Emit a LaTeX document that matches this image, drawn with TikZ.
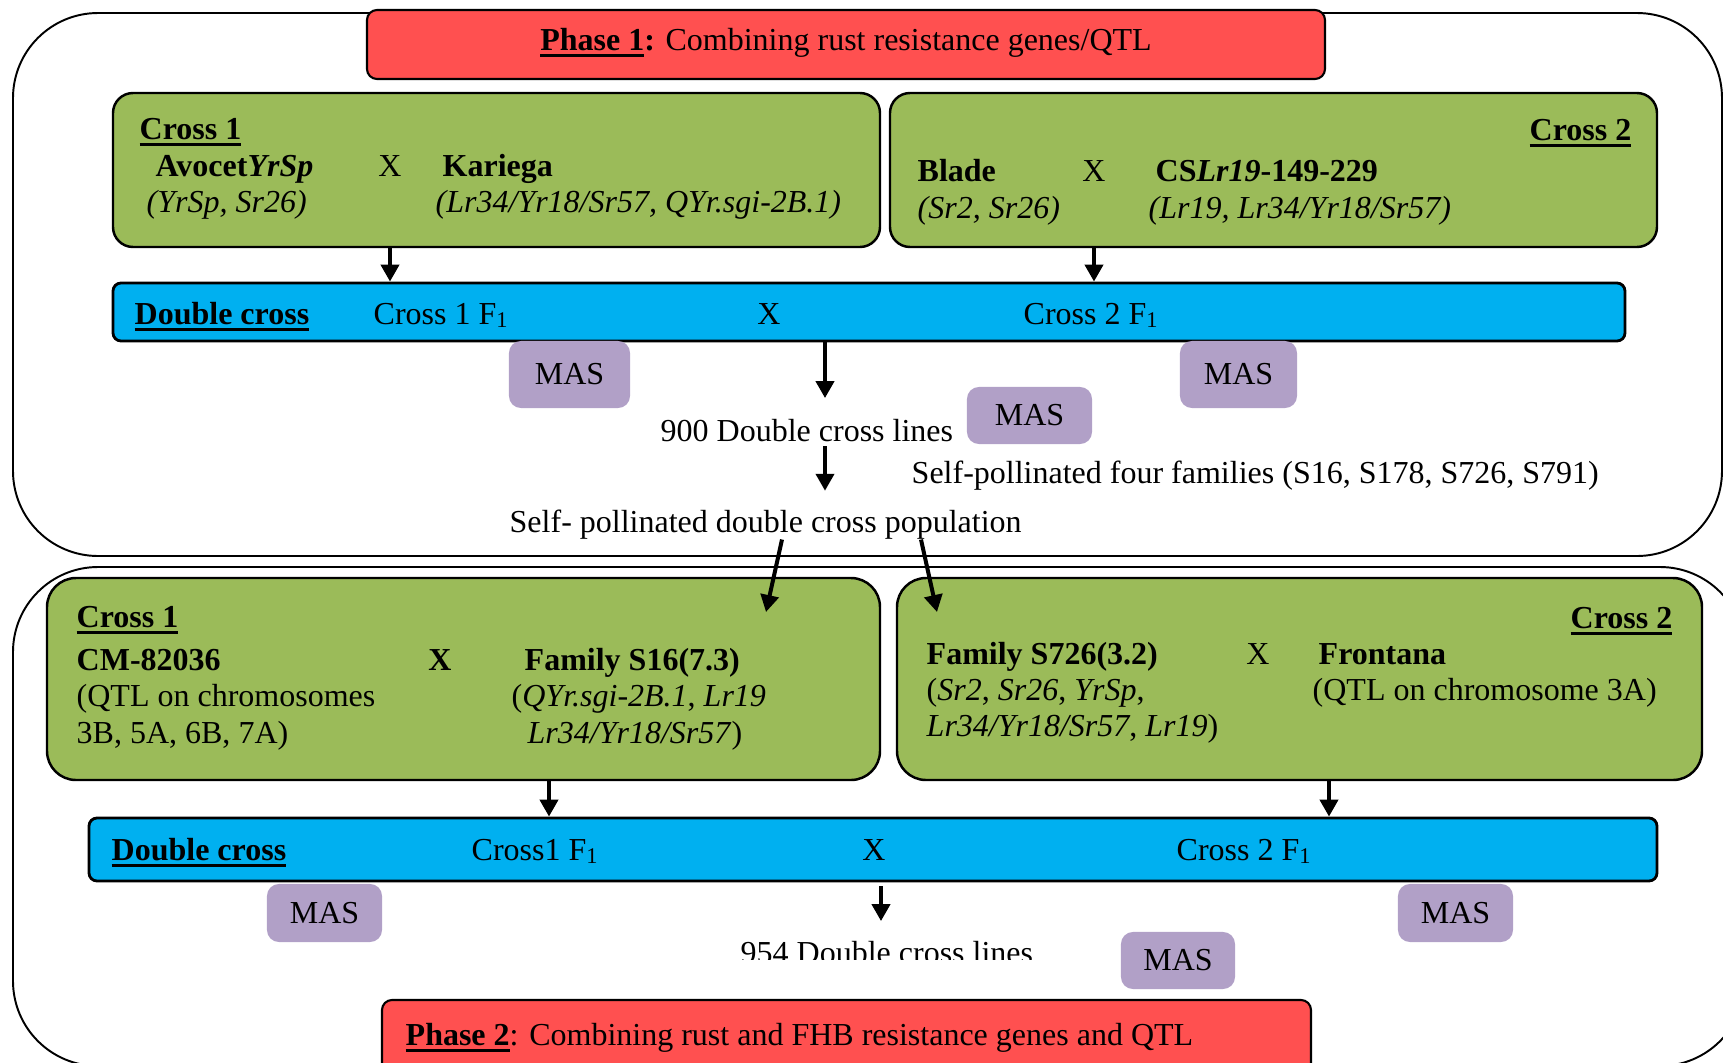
\documentclass[tikz,border=0pt]{standalone}
\usepackage{fontspec}
\setmainfont{Liberation Serif}
\usetikzlibrary{arrows.meta,fit}
\definecolor{phasered}{RGB}{255, 80, 80}
\definecolor{crossgreen}{RGB}{155, 187, 89}
\definecolor{dcblue}{RGB}{0, 176, 240}
\definecolor{maslilac}{RGB}{177, 160, 199}
% bold heading with a heavy underline
\newcommand{\hdr}[1]{\setbox0\hbox{\bfseries #1}\rlap{\rule[-2pt]{\wd0}{1pt}}\box0}

\begin{document}
\begin{tikzpicture}[x=0.01cm, y=-0.01cm,
        every node/.style={inner sep=0pt, font=\fontsize{9.1}{11}\selectfont},
        frame/.style={draw, line width=0.55pt, rounded corners=0.85cm},
        phasebox/.style={draw, fill=phasered, line width=0.6pt, rounded corners=0.1cm},
        crossbox/.style={draw, fill=crossgreen, line width=0.7pt, rounded corners=#1},
        crossbox/.default=0.2cm,
        dcbar/.style={draw, fill=dcblue, line width=0.8pt, rounded corners=0.08cm},
        mas/.style={fill=maslilac, rounded corners=0.12cm},
        arr/.style={-{Triangle[length=0.17cm, width=0.18cm]}, line width=0.04cm}]
            \clip (0,0) rectangle (1723,1063);
            % Outer frames
            \draw[frame] (13, 13) rectangle (1722, 556);
            \draw[frame] (13,567) rectangle (1745,1066);
            % Phase 1
            \node[phasebox, fit={(367,10) (1325,79)}] (p1box) {};
            \node[anchor=base] (p1title) at (846,50) {\hdr{Phase 1}\textbf{:} Combining rust resistance genes/QTL};
            % Cross 1
            \node[crossbox, fit={(113,93) (880,247)}] (p1c1) {};
            \node[anchor=base west] (p1c1hd)  at (139,139) {\hdr{Cross 1}};
            \node[anchor=base west] (avocet)  at (155,176) {\textbf{Avocet\textit{YrSp}}};
            \node[anchor=base]      (p1x1)    at (390,176) {X};
            \node[anchor=base west] (kariega) at (442,176) {\textbf{Kariega}};
            \node[anchor=base west] (avocetg) at (146,212) {\textit{(YrSp, Sr26)}};
            \node[anchor=base west] (kariegag) at (435,212) {\textit{(Lr34/Yr18/Sr57, QYr.sgi-2B.1)}};
            % Cross 2
            \node[crossbox, fit={(890,93) (1657,247)}] (p1c2) {};
            \node[anchor=base east] (p1c2hd) at (1632,140) {\hdr{Cross 2}};
            \node[anchor=base west] (blade)  at (917,181) {\textbf{Blade}};
            \node[anchor=base]      (p1x2)   at (1094,181) {X};
            \node[anchor=base west] (cslr)   at (1155,181) {\textbf{CS\textit{Lr19}-149-229}};
            \node[anchor=base west] (bladeg) at (917,218) {\textit{(Sr2, Sr26)}};
            \node[anchor=base west] (cslrg)  at (1148,218) {\textit{(Lr19, Lr34/Yr18/Sr57)}};
            % Double cross
            \node[dcbar, fit={(113,283) (1625,341)}] (p1dc) {};
            \node[anchor=base west] (p1dchd) at (134,324) {\hdr{Double cross}};
            \node[anchor=base west] (p1f1a)  at (373,324) {Cross 1 F\textsubscript{1}};
            \node[anchor=base]      (p1x3)   at (769,324) {X};
            \node[anchor=base west] (p1f1b)  at (1023,324) {Cross 2 F\textsubscript{1}};
            % MAS
            \node[mas, minimum width=1.21cm, minimum height=0.67cm] (masA) at (569.5,374.5) {MAS};
            \node[mas, minimum width=1.17cm, minimum height=0.67cm] (masB) at (1238.5,374.5) {MAS};
            \node[mas, minimum width=1.25cm, minimum height=0.57cm] (masC) at (1029.5,415.5) {MAS};
            % Lines and families
            \node[anchor=base west] (p1lines) at (660,441) {900 Double cross lines};
            \node[anchor=base west] (p1fam)   at (911,483) {Self-pollinated four families (S16, S178, S726, S791)};
            \node[anchor=base west] (p1pop)   at (509,532) {Self- pollinated double cross population};
            % Phase 2
            \node[crossbox=0.29cm, fit={(47,578) (880,780)}] (p2c1) {};
            \node[anchor=base west] (p2c1hd) at (76,627) {\hdr{Cross 1}};
            \node[anchor=base west] (cm)     at (76,670) {\textbf{CM-82036}};
            \node[anchor=base]      (p2x1)   at (440,670) {\textbf{X}};
            \node[anchor=base west] (fams16) at (524,670) {\textbf{Family S16(7.3)}};
            \node[anchor=base west] (cmg1)   at (76,706) {(QTL on chromosomes};
            \node[anchor=base west] (cmg2)   at (76,743) {3B, 5A, 6B, 7A)};
            \node[anchor=base west] (s16g1)  at (511,706) {(\textit{QYr.sgi-2B.1}, \textit{Lr19}};
            \node[anchor=base west] (s16g2)  at (527,743) {\textit{Lr34/Yr18/Sr57})};
            \node[crossbox=0.29cm, fit={(897,578) (1702,780)}] (p2c2) {};
            \node[anchor=base east] (p2c2hd) at (1673,628) {\hdr{Cross 2}};
            \node[anchor=base west] (fams726) at (926,664) {\textbf{Family S726(3.2)}};
            \node[anchor=base]      (p2x2)   at (1258,664) {X};
            \node[anchor=base west] (front)  at (1318,664) {\textbf{Frontana}};
            \node[anchor=base west] (s726g1) at (926,700) {(\textit{Sr2}, \textit{Sr26}, \textit{YrSp},};
            \node[anchor=base west] (s726g2) at (926,736) {\textit{Lr34/Yr18/Sr57}, \textit{Lr19})};
            \node[anchor=base west] (frontg) at (1312,700) {(QTL on chromosome 3A)};
            \node[dcbar, fit={(89,818) (1657,881)}] (p2dc) {};
            \node[anchor=base west] (p2dchd) at (111,860) {\hdr{Double cross}};
            \node[anchor=base west] (p2f1a)  at (471,860) {Cross1 F\textsubscript{1}};
            \node[anchor=base]      (p2x3)   at (874,860) {X};
            \node[anchor=base west] (p2f1b)  at (1176,860) {Cross 2 F\textsubscript{1}};
            \node[mas, minimum width=1.15cm, minimum height=0.58cm] (masD) at (324.5,913) {MAS};
            \node[mas, minimum width=1.15cm, minimum height=0.58cm] (masE) at (1455.5,913) {MAS};
            \node[mas, minimum width=1.14cm, minimum height=0.57cm] (masF) at (1178,960.5) {MAS};
            \begin{scope}
                \clip (700,900) rectangle (1100,959);
                \node[anchor=base west] (p2lines) at (740,963) {954 Double cross lines};
            \end{scope}
            \node[phasebox, fit={(382,1000) (1311,1090)}] (p2box) {};
            \node[anchor=base west] (p2title) at (405,1045) {\hdr{Phase 2}: Combining rust and FHB resistance genes and QTL};
            % Arrows
            \coordinate (dropA)  at (825,0);
            \coordinate (slantA) at (782,0);
            \coordinate (slantB) at (921,0);
            \coordinate (tipA)   at (766,612);
            \coordinate (tipB)   at (937,612);
            \coordinate (dropB)  at (549,0);
            \coordinate (dropC)  at (1329,0);
            \coordinate (dropD)  at (881,0);
            \draw[arr] (p1c1.south -| p1x1) -- (p1dc.north -| p1x1);
            \draw[arr] (p1c2.south -| p1x2) -- (p1dc.north -| p1x2);
            \draw[arr, shorten >=0.2cm] (p1dc.south -| dropA) -- (p1lines.north -| dropA);
            \draw[arr, shorten <=0.04cm, shorten >=0.18cm] (p1lines.south -| dropA) -- (p1pop.north -| dropA);
            \draw[arr] (p1pop.south -| slantA) -- (tipA);
            \draw[arr] (p1pop.south -| slantB) -- (tipB);
            \draw[arr] (p2c1.south -| dropB) -- (p2dc.north -| dropB);
            \draw[arr] (p2c2.south -| dropC) -- (p2dc.north -| dropC);
            \draw[arr, shorten <=0.04cm, shorten >=0.19cm] (p2dc.south -| dropD) -- (p2lines.north -| dropD);
        \end{tikzpicture}
\end{document}
